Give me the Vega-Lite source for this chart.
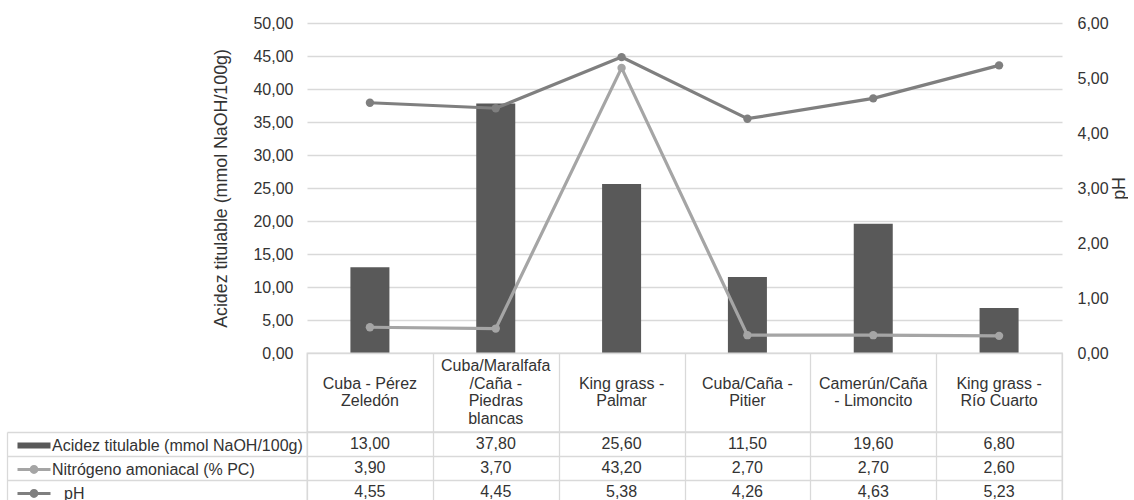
{
  "$schema": "https://vega.github.io/schema/vega-lite/v6.json",
  "padding": {"left": 5, "top": 15, "right": 0, "bottom": 0},
  "bounds": "flush",
  "spacing": 0,
  "config": {
    "font": "Liberation Sans",
    "locale": {"number": {"decimal": ",", "thousands": ".", "grouping": [3], "currency": ["", " €"]}},
    "axis": {"labelFont": "Liberation Sans", "titleFont": "Liberation Sans", "labelColor": "#333333", "titleColor": "#333333"},
    "legend": {"labelFont": "Liberation Sans"}
  },
  "datasets": {
    "d": [
      {"category": "Cuba - Pérez\nZeledón", "series": "Acidez titulable (mmol NaOH/100g)", "value": 13.0},
      {"category": "Cuba/Maralfafa\n/Caña -\nPiedras\nblancas", "series": "Acidez titulable (mmol NaOH/100g)", "value": 37.8},
      {"category": "King grass -\nPalmar", "series": "Acidez titulable (mmol NaOH/100g)", "value": 25.6},
      {"category": "Cuba/Caña -\nPitier", "series": "Acidez titulable (mmol NaOH/100g)", "value": 11.5},
      {"category": "Camerún/Caña\n- Limoncito", "series": "Acidez titulable (mmol NaOH/100g)", "value": 19.6},
      {"category": "King grass -\nRío Cuarto", "series": "Acidez titulable (mmol NaOH/100g)", "value": 6.8},
      {"category": "Cuba - Pérez\nZeledón", "series": "Nitrógeno amoniacal (% PC)", "value": 3.9},
      {"category": "Cuba/Maralfafa\n/Caña -\nPiedras\nblancas", "series": "Nitrógeno amoniacal (% PC)", "value": 3.7},
      {"category": "King grass -\nPalmar", "series": "Nitrógeno amoniacal (% PC)", "value": 43.2},
      {"category": "Cuba/Caña -\nPitier", "series": "Nitrógeno amoniacal (% PC)", "value": 2.7},
      {"category": "Camerún/Caña\n- Limoncito", "series": "Nitrógeno amoniacal (% PC)", "value": 2.7},
      {"category": "King grass -\nRío Cuarto", "series": "Nitrógeno amoniacal (% PC)", "value": 2.6},
      {"category": "Cuba - Pérez\nZeledón", "series": "pH", "value": 4.55},
      {"category": "Cuba/Maralfafa\n/Caña -\nPiedras\nblancas", "series": "pH", "value": 4.45},
      {"category": "King grass -\nPalmar", "series": "pH", "value": 5.38},
      {"category": "Cuba/Caña -\nPitier", "series": "pH", "value": 4.26},
      {"category": "Camerún/Caña\n- Limoncito", "series": "pH", "value": 4.63},
      {"category": "King grass -\nRío Cuarto", "series": "pH", "value": 5.23}
    ]
  },
  "vconcat": [
    {
      "width": 755,
      "height": 330,
      "view": {"stroke": null},
      "data": {"name": "d"},
      "encoding": {
        "x": {"field": "category", "type": "nominal", "scale": {"domain": ["Cuba - Pérez\nZeledón", "Cuba/Maralfafa\n/Caña -\nPiedras\nblancas", "King grass -\nPalmar", "Cuba/Caña -\nPitier", "Camerún/Caña\n- Limoncito", "King grass -\nRío Cuarto"], "paddingInner": 0, "paddingOuter": 0}, "axis": null},
        "color": {
          "field": "series",
          "type": "nominal",
          "scale": {
            "domain": ["Acidez titulable (mmol NaOH/100g)", "Nitrógeno amoniacal (% PC)", "pH"],
            "range": ["#595959", "#a5a5a5", "#7f7f7f"]
          },
          "legend": {
            "title": null,
            "orient": "none",
            "direction": "vertical",
            "legendX": -281,
            "legendY": 414.5,
            "padding": 0,
            "labelFontSize": 16,
            "labelColor": "#333333",
            "labelLimit": 400,
            "labelOffset": 10,
            "rowPadding": 8,
            "symbolSize": 64,
            "encode": {
              "symbols": {
                "update": {
                  "shape": {"signal": "datum.value === 'Acidez titulable (mmol NaOH/100g)' ? 'M-4.125,-0.75H4.125V0.75H-4.125Z' : 'M-4.125,-0.375H4.125V0.375H-4.125Z M1.1,0A1.1,1.1,0,1,1,-1.1,0A1.1,1.1,0,1,1,1.1,0Z'"},
                  "fill": {"signal": "scale('color', datum.value)"},
                  "strokeWidth": {"value": 0},
                  "opacity": {"value": 1},
                  "fillOpacity": {"value": 1}
                }
              },
              "labels": {
                "update": {
                  "dx": {"signal": "datum.value === 'pH' ? 12 : 0"}
                }
              }
            }
          }
        }
      },
      "layer": [
        {
          "encoding": {
            "y": {
              "field": "value",
              "type": "quantitative",
              "scale": {"domain": [0, 50], "nice": false},
              "axis": {
                "title": "Acidez titulable (mmol NaOH/100g)",
                "titleFontSize": 17.8,
                "titleFontWeight": "normal",
                "titlePadding": 22,
                "values": [0, 5, 10, 15, 20, 25, 30, 35, 40, 45, 50],
                "format": ".2f",
                "labelFontSize": 16,
                "labelPadding": 14,
                "ticks": false,
                "domain": false,
                "grid": true,
                "gridColor": "#d9d9d9",
                "gridWidth": 1.3
              }
            }
          },
          "layer": [
            {
              "transform": [{"filter": "datum.series === 'Acidez titulable (mmol NaOH/100g)'"}],
              "mark": {"type": "bar", "width": {"band": 0.31}}
            },
            {
              "transform": [{"filter": "datum.series === 'Nitrógeno amoniacal (% PC)'"}],
              "mark": {"type": "line", "strokeWidth": 3.2, "point": {"filled": true, "size": 70, "opacity": 1}}
            }
          ]
        },
        {
          "transform": [{"filter": "datum.series === 'pH'"}],
          "mark": {"type": "line", "strokeWidth": 3.2, "point": {"filled": true, "size": 70, "opacity": 1}},
          "encoding": {
            "y": {
              "field": "value",
              "type": "quantitative",
              "scale": {"domain": [0, 6], "nice": false},
              "axis": {
                "orient": "right",
                "title": "pH",
                "titleAngle": 270,
                "titleFontSize": 17.8,
                "titleFontWeight": "normal",
                "titlePadding": 20,
                "values": [0, 1, 2, 3, 4, 5, 6],
                "format": ".2f",
                "labelFontSize": 16,
                "labelPadding": 15,
                "ticks": false,
                "domain": false,
                "grid": false
              }
            }
          }
        }
      ],
      "resolve": {"scale": {"y": "independent"}}
    },
    {
      "width": 755,
      "height": 79,
      "view": {"stroke": "#d9d9d9", "strokeWidth": 1.3},
      "data": {"name": "d"},
      "transform": [{"filter": "datum.series === 'pH'"}],
      "encoding": {
        "x": {
          "field": "category", "type": "nominal",
          "scale": {"domain": ["Cuba - Pérez\nZeledón", "Cuba/Maralfafa\n/Caña -\nPiedras\nblancas", "King grass -\nPalmar", "Cuba/Caña -\nPitier", "Camerún/Caña\n- Limoncito", "King grass -\nRío Cuarto"], "paddingInner": 0, "paddingOuter": 0},
          "axis": {"orient": "top", "labels": false, "ticks": false, "domain": false, "grid": true, "gridColor": "#d9d9d9", "gridWidth": 1.3, "tickBand": "extent", "title": null}
        },
        "text": {"field": "category", "type": "nominal"}
      },
      "layer": [
        {
          "transform": [{"filter": "indexof(datum.category, 'Maralfafa') < 0"}],
          "mark": {"type": "text", "lineBreak": "\n", "lineHeight": 17.7, "fontSize": 16, "color": "#333333", "baseline": "middle", "align": "center", "dy": -8.85}
        },
        {
          "transform": [{"filter": "indexof(datum.category, 'Maralfafa') >= 0"}],
          "mark": {"type": "text", "lineBreak": "\n", "lineHeight": 17.7, "fontSize": 16, "color": "#333333", "baseline": "middle", "align": "center", "dy": -26.5}
        }
      ]
    },
    {
      "width": 755,
      "height": 72,
      "view": {"stroke": "#d9d9d9", "strokeWidth": 1.3},
      "data": {"name": "d"},
      "mark": {"type": "text", "fontSize": 16, "color": "#333333", "baseline": "middle", "align": "center"},
      "encoding": {
        "x": {
          "field": "category", "type": "nominal",
          "scale": {"domain": ["Cuba - Pérez\nZeledón", "Cuba/Maralfafa\n/Caña -\nPiedras\nblancas", "King grass -\nPalmar", "Cuba/Caña -\nPitier", "Camerún/Caña\n- Limoncito", "King grass -\nRío Cuarto"], "paddingInner": 0, "paddingOuter": 0},
          "axis": {"orient": "top", "labels": false, "ticks": false, "domain": false, "grid": true, "gridColor": "#d9d9d9", "gridWidth": 1.3, "tickBand": "extent", "title": null}
        },
        "y": {
          "field": "series", "type": "nominal", "sort": null,
          "scale": {"paddingInner": 0, "paddingOuter": 0},
          "axis": {"labels": false, "title": null, "offset": 300, "tickSize": -1055, "tickBand": "extent", "tickColor": "#d9d9d9", "tickWidth": 1.3, "domainColor": "#d9d9d9", "domainWidth": 1.3, "grid": false}
        },
        "text": {"field": "value", "type": "quantitative", "format": ".2f"}
      }
    }
  ]
}
